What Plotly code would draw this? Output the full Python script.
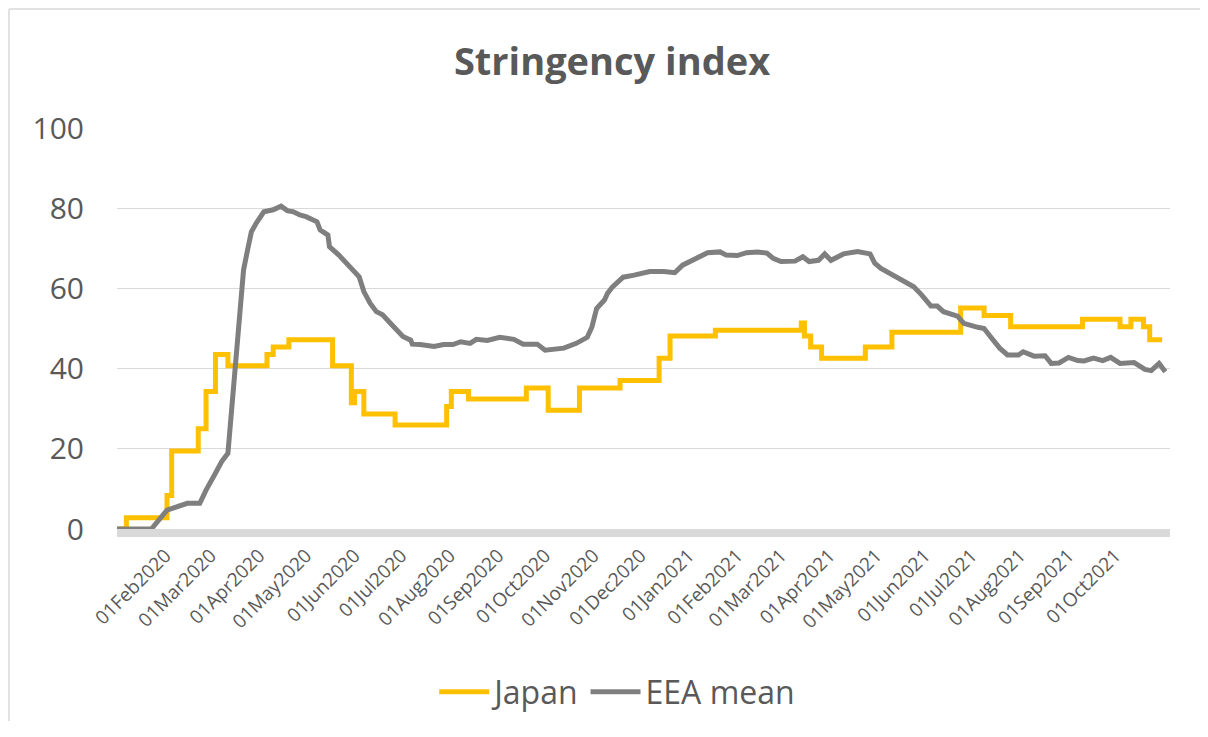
import plotly.graph_objects as go

# Japan stringency index (step changes)
jp_dates = ["2020-01-01", "2020-01-07", "2020-02-02", "2020-02-05", "2020-02-22", "2020-02-27",
            "2020-03-04", "2020-03-12", "2020-04-06", "2020-04-10", "2020-04-20", "2020-05-18",
            "2020-05-30", "2020-06-01", "2020-06-07", "2020-06-27", "2020-07-30", "2020-08-02",
            "2020-08-13", "2020-09-19", "2020-10-03", "2020-10-23", "2020-11-18", "2020-12-13",
            "2020-12-20", "2021-01-18", "2021-03-14", "2021-03-16", "2021-03-20", "2021-03-27",
            "2021-04-24", "2021-05-11", "2021-06-24", "2021-07-09", "2021-07-26", "2021-09-10",
            "2021-10-04", "2021-10-11", "2021-10-19", "2021-10-23", "2021-10-31"]
jp_values = [0, 2.78, 8.33, 19.44, 25.0, 34.26,
             43.52, 40.74, 43.52, 45.37, 47.22, 40.74,
             31.48, 34.26, 28.7, 25.93, 30.56, 34.26,
             32.41, 35.19, 29.63, 35.19, 37.04, 42.59,
             48.15, 49.54, 51.39, 48.15, 45.37, 42.59,
             45.37, 49.07, 55.09, 53.24, 50.46, 52.31,
             50.46, 52.31, 50.46, 47.22, 47.22]

# EEA mean stringency index
eea_dates = ["2020-01-01", "2020-01-23", "2020-02-02", "2020-02-10", "2020-02-15", "2020-02-23",
             "2020-02-27", "2020-03-04", "2020-03-08", "2020-03-12", "2020-03-14", "2020-03-16",
             "2020-03-18", "2020-03-20", "2020-03-22", "2020-03-25", "2020-03-27", "2020-03-30",
             "2020-04-04", "2020-04-10", "2020-04-15", "2020-04-19", "2020-04-23", "2020-04-27",
             "2020-05-01", "2020-05-08", "2020-05-10", "2020-05-15", "2020-05-16", "2020-05-22",
             "2020-05-27", "2020-05-31", "2020-06-04", "2020-06-07", "2020-06-11", "2020-06-15",
             "2020-06-19", "2020-06-24", "2020-06-28", "2020-07-02", "2020-07-07", "2020-07-08",
             "2020-07-13", "2020-07-22", "2020-07-28", "2020-08-03", "2020-08-08", "2020-08-14",
             "2020-08-18", "2020-08-25", "2020-09-02", "2020-09-11", "2020-09-17", "2020-09-26",
             "2020-10-01", "2020-10-13", "2020-10-21", "2020-10-28", "2020-10-31", "2020-11-03",
             "2020-11-08", "2020-11-10", "2020-11-13", "2020-11-20", "2020-11-27", "2020-12-07",
             "2020-12-16", "2020-12-23", "2020-12-28", "2021-01-04", "2021-01-13", "2021-01-21",
             "2021-01-25", "2021-02-01", "2021-02-07", "2021-02-14", "2021-02-20", "2021-02-24",
             "2021-03-01", "2021-03-10", "2021-03-15", "2021-03-19", "2021-03-25", "2021-03-29",
             "2021-04-02", "2021-04-10", "2021-04-19", "2021-04-27", "2021-04-30", "2021-05-04",
             "2021-05-17", "2021-05-25", "2021-05-30", "2021-06-05", "2021-06-09", "2021-06-13",
             "2021-06-22", "2021-06-26", "2021-07-05", "2021-07-09", "2021-07-13", "2021-07-19",
             "2021-07-24", "2021-07-31", "2021-08-03", "2021-08-10", "2021-08-17", "2021-08-21",
             "2021-08-26", "2021-09-01", "2021-09-07", "2021-09-11", "2021-09-17", "2021-09-23",
             "2021-09-28", "2021-10-04", "2021-10-13", "2021-10-20", "2021-10-24", "2021-10-29",
             "2021-11-02"]
eea_values = [0, 0, 4.7, 5.7, 6.4, 6.4,
              9.7, 13.9, 16.8, 18.9, 28.0, 40.5,
              48.8, 58.8, 64.6, 70.4, 74.1, 76.2,
              79.1, 79.6, 80.5, 79.4, 79.1, 78.3,
              77.9, 76.6, 74.6, 73.3, 70.4, 68.3,
              66.3, 64.6, 62.9, 59.2, 56.3, 54.2,
              53.4, 51.3, 49.6, 48.0, 47.1, 46.1,
              46.0, 45.5, 46.0, 46.0, 46.7, 46.3,
              47.3, 47.0, 47.8, 47.3, 46.1, 46.1,
              44.6, 45.1, 46.3, 47.8, 50.4, 55.0,
              57.1, 58.8, 60.3, 62.8, 63.3, 64.2,
              64.2, 63.9, 65.8, 67.1, 68.9, 69.1,
              68.3, 68.2, 68.9, 69.1, 68.8, 67.5,
              66.7, 66.8, 67.9, 66.7, 67.0, 68.6,
              67.0, 68.6, 69.2, 68.6, 66.3, 65.0,
              62.1, 60.4, 58.4, 55.6, 55.6, 54.2,
              53.1, 51.3, 50.3, 50.0, 48.0, 45.1,
              43.4, 43.4, 44.2, 43.1, 43.2, 41.3,
              41.4, 42.8, 42.0, 41.9, 42.6, 42.0,
              42.8, 41.3, 41.5, 39.8, 39.5, 41.3,
              39.2]

month_ticks = ["2020-02-01", "2020-03-01", "2020-04-01", "2020-05-01", "2020-06-01", "2020-07-01",
               "2020-08-01", "2020-09-01", "2020-10-01", "2020-11-01", "2020-12-01", "2021-01-01",
               "2021-02-01", "2021-03-01", "2021-04-01", "2021-05-01", "2021-06-01", "2021-07-01",
               "2021-08-01", "2021-09-01", "2021-10-01"]

TXT = "#595959"
FONT = "Open Sans"
W, H = 1192, 713   # page body adds an 8px margin all round

fig = go.Figure()
fig.add_trace(go.Scatter(x=jp_dates, y=jp_values, name="Japan", mode="lines",
                         line=dict(color="#FFC000", width=5, shape="hv")))
fig.add_trace(go.Scatter(x=eea_dates, y=eea_values, name="EEA mean", mode="lines",
                         line=dict(color="#7F7F7F", width=5)))

# chart-area border: only the left and top edges fall inside the picture
border = dict(color="#d9d9d9", width=1.5)
fig.add_shape(type="line", xref="paper", yref="paper", x0=-0.1026, y0=-0.7, x1=-0.1026, y1=1.2968,
              line=border, layer="below")
fig.add_shape(type="line", xref="paper", yref="paper", x0=-0.1026, y0=1.2968, x1=1.2, y1=1.2968,
              line=border, layer="below")

fig.update_layout(
    width=W, height=H,
    margin=dict(l=109, r=30, t=120, b=192, autoexpand=False),
    paper_bgcolor="white", plot_bgcolor="white",
    font=dict(family=FONT, color=TXT),
    title=dict(text="<b>Stringency index</b>", x=(612 - 8) / W, y=1 - (62 - 8) / H,
               xanchor="center", yanchor="middle", font=dict(size=38, color=TXT, family=FONT)),
    legend=dict(orientation="h", x=0.475, xanchor="center",
                yref="container", y=1 - (692 - 8) / H, yanchor="middle",
                font=dict(size=32, color=TXT), itemwidth=50),
    showlegend=True,
)
fig.update_xaxes(
    type="date", range=["2020-01-01", "2021-11-05"],
    tickvals=month_ticks, tickformat="%d%b%Y", tickangle=-45,
    tickfont=dict(size=19, color=TXT), showgrid=False,
    showline=True, linecolor="#d9d9d9", linewidth=8, ticks="", zeroline=False,
)
fig.update_yaxes(
    range=[0, 100], tickvals=[0, 20, 40, 60, 80, 100],
    tickfont=dict(size=30, color=TXT), showgrid=True, gridcolor="#d9d9d9", gridwidth=1.3,
    zeroline=False, showline=False, ticklabelstandoff=32,
)

fig.write_html("out.html")
